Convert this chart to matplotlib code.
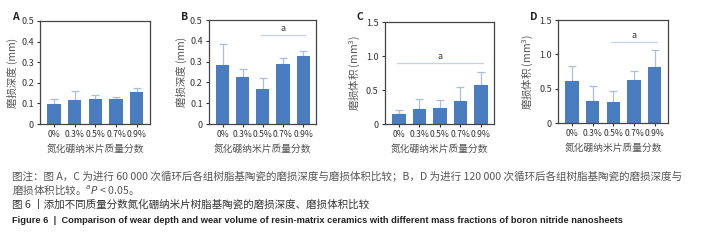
import numpy as np
import matplotlib
matplotlib.use('Agg')
import matplotlib.pyplot as plt

plt.rcParams['font.family'] = ['Noto Sans CJK SC', 'DejaVu Sans']
plt.rcParams['mathtext.fontset'] = 'dejavusans'

# data
groups = ['0%', '0.3%', '0.5%', '0.7%', '0.9%']
depth_60k = [0.095, 0.116, 0.119, 0.121, 0.155]
depth_60k_err = [0.024, 0.044, 0.021, 0.011, 0.022]
depth_120k = [0.282, 0.224, 0.169, 0.289, 0.326]
depth_120k_err = [0.105, 0.041, 0.052, 0.030, 0.026]
vol_60k = [0.14, 0.223, 0.228, 0.335, 0.573]
vol_60k_err = [0.06, 0.151, 0.126, 0.209, 0.199]
vol_120k = [0.612, 0.32, 0.301, 0.631, 0.82]
vol_120k_err = [0.213, 0.214, 0.160, 0.131, 0.238]

W, H = 705, 243
fig = plt.figure(figsize=(W/100, H/100), dpi=100)

bar_c = '#4a7cc0'
err_c = '#a8bfdf'
spine_c = '#454545'
txt_c = '#333333'

def px_axes(l, r, t, b):
    return fig.add_axes([l/W, (H-b)/H, (r-l)/W, (b-t)/H])

panels = [
    # letter, box, values, err, ylim, ticks, ylabel, sig
    ('A', (40, 150, 21, 124), depth_60k, depth_60k_err, 0.5,
     [0, 0.1, 0.2, 0.3, 0.4, 0.5], '磨损深度 (mm)', None),
    ('B', (209, 316, 20, 124), depth_120k, depth_120k_err, 0.5,
     [0, 0.1, 0.2, 0.3, 0.4, 0.5], '磨损深度 (mm)', (2, 4, 0.429)),
    ('C', (385, 494, 22, 124), vol_60k, vol_60k_err, 1.5,
     [0, 0.5, 1.0, 1.5], '磨损体积 (mm$^3$)', (0, 4, 0.898)),
    ('D', (558, 668, 20, 123), vol_120k, vol_120k_err, 1.5,
     [0, 0.5, 1.0, 1.5], '磨损体积 (mm$^3$)', (2, 4, 1.184)),
]

for letter, box, vals, errs, ymax, ticks, ylab, sig in panels:
    ax = px_axes(*box)
    x = np.arange(len(groups))
    ax.errorbar(x, vals, yerr=[np.zeros(len(errs)), errs], fmt='none',
                ecolor=err_c, elinewidth=0.9, capsize=3, capthick=0.9, zorder=1)
    ax.bar(x, vals, width=0.65, color=bar_c, zorder=2)
    ax.set_xlim(-0.68, 4.64)
    ax.set_ylim(0, ymax)
    ax.set_yticks(ticks)
    ax.set_yticklabels(['0'] + ['%.1f' % t for t in ticks[1:]])
    ax.set_xticks(x)
    ax.set_xticklabels(groups)
    ax.tick_params(labelsize=6.2, colors=txt_c, length=2.5, width=0.8, pad=2)
    ax.tick_params(axis='y', labelsize=6.5)
    for s in ax.spines.values():
        s.set_color(spine_c)
        s.set_linewidth(0.9)
    ax.set_ylabel(ylab, fontsize=7.5, color='#555555', labelpad=2)
    ax.set_xlabel('氮化硼纳米片质量分数', fontsize=7, color='#555555', labelpad=3)
    if sig is not None:
        x0, x1, y = sig
        ax.plot([x0 - 0.1, x1 + 0.1], [y, y], color='#c5d3e8', lw=0.9)
        ax.text((x0 + x1) / 2, y + ymax * 0.02, 'a', ha='center', va='bottom',
                fontsize=6.5, color=txt_c)
    fig.text((box[0] - 28) / W, 1 - 17 / H, letter, fontsize=7.5,
             fontweight='bold', ha='left', va='center', color='#222222')

cap1 = '图注：图 A，C 为进行 60 000 次循环后各组树脂基陶瓷的磨损深度与磨损体积比较；B，D 为进行 120 000 次循环后各组树脂基陶瓷的磨损深度与'
cap2 = '磨损体积比较。$^{a}\\mathit{P}$ < 0.05。'
fig.text(12/W, 1 - 177/H, cap1, fontsize=7.6, color='#555555', va='center')
fig.text(12/W, 1 - 190/H, cap2, fontsize=7.6, color='#555555', va='center')
fig.text(12/W, 1 - 205/H, '图 6 丨添加不同质量分数氮化硼纳米片树脂基陶瓷的磨损深度、磨损体积比较',
         fontsize=7.6, color='#333333', va='center')
fig.text(12/W, 1 - 220/H,
         'Figure 6  |  Comparison of wear depth and wear volume of resin-matrix ceramics with different mass fractions of boron nitride nanosheets',
         fontsize=6.65, color='#222222', fontweight='bold', va='center',
         family=['Liberation Sans', 'DejaVu Sans'])

fig.savefig('out.png', dpi=100)
